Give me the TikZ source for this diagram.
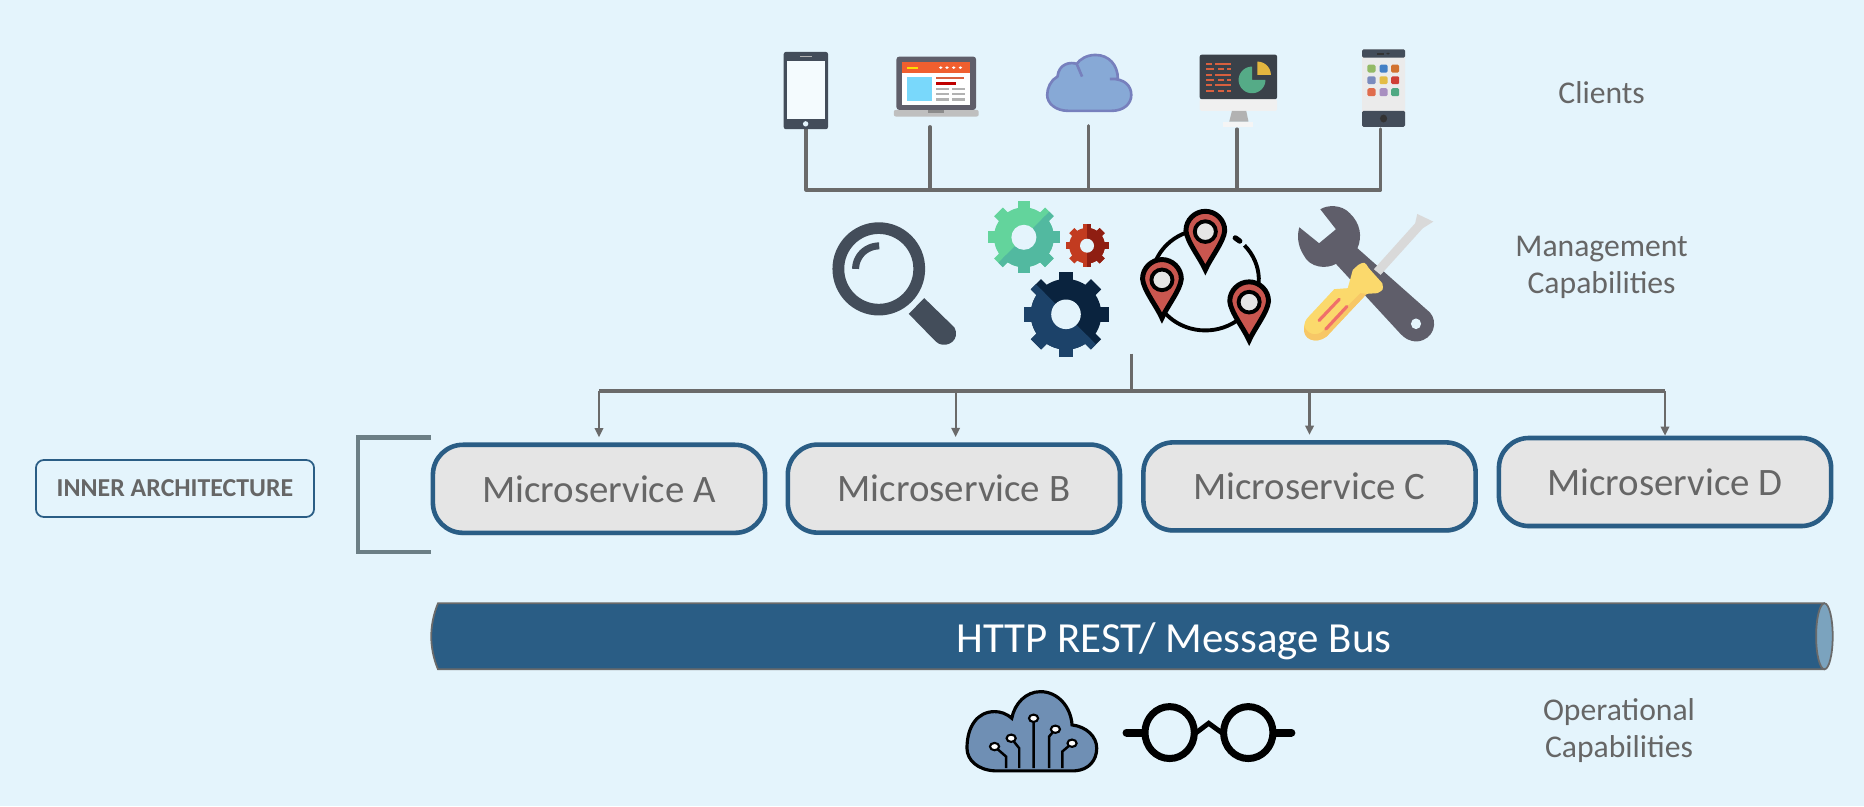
\documentclass[tikz,border=0pt]{standalone}
\usepackage{fontspec}
\setmainfont{Carlito}
\usetikzlibrary{arrows.meta,shadows}
\definecolor{back_col}{HTML}{E4F4FC}
\definecolor{line_col}{HTML}{6A6A6A}
\definecolor{text_col}{HTML}{666666}
\definecolor{blue_col}{HTML}{2A5D85}
\definecolor{slate_col}{HTML}{434D5A}
\definecolor{wrench_col}{HTML}{5F5E6A}
\definecolor{bars_col}{HTML}{D9603F}
\definecolor{pin_col}{HTML}{C9564F}
\definecolor{head_col}{HTML}{F05F2F}
\definecolor{sky_col}{HTML}{79D8FB}
\definecolor{cloud_col}{HTML}{87A9D6}
\definecolor{cloud_edge}{HTML}{7780BD}
\definecolor{screen_col}{HTML}{3A4149}
\definecolor{pie_col}{HTML}{55AB87}
\definecolor{slice_col}{HTML}{E3B63F}
\definecolor{grip_col}{HTML}{FBD96C}
\definecolor{grip_dark}{HTML}{F7C766}
\definecolor{stripe_col}{HTML}{F0706A}
\definecolor{mint_a}{HTML}{63D49C}
\definecolor{mint_b}{HTML}{52B9A0}
\definecolor{rust_a}{HTML}{C23B20}
\definecolor{rust_b}{HTML}{8F1E12}
\definecolor{navy_a}{HTML}{0A233E}
\definecolor{navy_b}{HTML}{1C4269}
\definecolor{tag_col}{HTML}{6B7E85}
\definecolor{cap_col}{HTML}{7BA3BE}
\definecolor{chip_col}{HTML}{6F8FB4}

% one gear: x, y, radius, hole, base colour, half colour, angle of the half
\newcommand{\gearbody}[2]{%
  \fill[#2] (0,0) circle ({0.83*#1});
  \foreach \a in {0,45,...,315} {\fill[#2,rotate=\a] ({-0.17*#1},{0.7*#1}) rectangle ({0.17*#1},#1);}}
\newcommand{\gearicon}[7]{%
  \begin{scope}[shift={(#1,#2)}]
    \gearbody{#3}{#5}
    \begin{scope}
      \clip[rotate=#7] ({-2*#3},0) rectangle ({2*#3},{2*#3});
      \gearbody{#3}{#6}
    \end{scope}
    \fill[back_col] (0,0) circle (#4);
  \end{scope}}
% one map pin, given by its tip
\newcommand{\pinicon}[2]{%
  \begin{scope}[shift={(#1,#2)}]
    \draw[black,fill=pin_col,line width=1.4pt] (0,0) .. controls (-12,-35) and (-44,-85) .. (-46,-118)
      .. controls (-46,-150) and (-25,-176) .. (0,-176) .. controls (25,-176) and (46,-150) .. (46,-118)
      .. controls (44,-85) and (12,-35) .. (0,0) -- cycle;
    \draw[black,fill=black!10,line width=1.1pt] (0,-115) ellipse [x radius=25,y radius=31];
  \end{scope}}

\begin{document}
\begin{tikzpicture}[x=0.01cm, y=-0.01cm,
                    service_style/.style={draw=blue_col, fill=black!10, line width=1.3pt, rounded corners=0.3cm,
                        minimum width=3.32cm, minimum height=0.88cm, inner sep=0pt, text=text_col,
                        font=\fontsize{11.05}{13}\selectfont,
                        drop shadow={shadow xshift=0pt, shadow yshift=-0.7pt, opacity=0.3}},
                    icon_style/.style={minimum size=0.4cm, inner sep=0pt, outer sep=0pt, anchor=south},
                    label_style/.style={text=text_col, font=\fontsize{9}{10.5}\selectfont, inner sep=0pt},
                    wire_style/.style={draw=line_col, line width=0.9pt, line cap=round, line join=round},
                    edge_style/.style={-{Stealth[length=2.6pt,width=2.4pt,inset=0pt]}, draw=line_col, line width=0.6pt},
                    zoom_a/.style={shift={(760,30)}, x=0.004464cm, y=-0.003333cm},
                    zoom_b/.style={shift={(800,190)}, x=0.004209cm, y=-0.003333cm},
                    zoom_d/.style={shift={(940,670)}, x=0.00574cm, y=-0.003333cm}
   ]
   \useasboundingbox (0,0) rectangle (1864,806);
   \fill[back_col] (0,0) rectangle (1864,806);

   % Clients
   \node[icon_style] (phone) at (806,129) {};
   \node[icon_style] (laptop) at (930,126.7) {};
   \node[icon_style] (cloud) at (1088.6,125.7) {};
   \node[icon_style] (monitor) at (1237,129) {};
   \node[icon_style] (tablet) at (1380.5,129) {};
   \coordinate (client_bus) at (0,190);
   \draw[wire_style] (phone.south) |- (client_bus -| tablet.south) -- (tablet.south);
   \foreach \n in {laptop,cloud,monitor} {\draw[wire_style] (\n.south) -- (\n.south |- client_bus);}

   \begin{scope}[zoom_a]
     % phone
     \fill[slate_col, rounded corners=0.6pt] (53,66) rectangle (152,298);
     \fill[back_col!40!white] (60,92) rectangle (146,268);
     \fill[back_col] (102,282) ellipse [x radius=6,y radius=8];
     \fill[black!30] (90,78) rectangle (116,81);
     % laptop
     \fill[black!25!white, rounded corners=0.6pt] (299,240) rectangle (489,260);
     \fill[black!45] (376,240) rectangle (412,248);
     \fill[wrench_col, rounded corners=0.8pt] (305,80) rectangle (483,240);
     \fill[white] (317,97) rectangle (470,224);
     \fill[head_col] (317,97) rectangle (470,129);
     \fill[yellow!80!orange] (328,110) rectangle (354,116);
     \foreach \x in {404,418,433,448} {\fill[white] (\x,113) ellipse [x radius=4,y radius=4];}
     \fill[sky_col] (328,140) rectangle (384,212);
     \fill[bars_col] (393,141) rectangle (456,148);
     \fill[red!75!black] (393,157) rectangle (438,164);
     \foreach \y in {173,189,205} {\fill[black!30] (393,\y) rectangle (422,\y+7); \fill[black!30] (430,\y) rectangle (458,\y+7);}
     % cloud
     \draw[fill=cloud_col, draw=cloud_edge, line width=0.75pt] (690,243) -- (785,243)
       .. controls (815,243) and (830,220) .. (830,195) .. controls (830,168) and (815,145) .. (782,147)
       -- (800,147) .. controls (800,105) and (780,75) .. (750,75) .. controls (730,75) and (715,88) .. (708,102)
       -- (720,140) -- (708,102) .. controls (695,95) and (668,100) .. (665,140)
       .. controls (650,150) and (642,175) .. (642,195) .. controls (642,220) and (660,243) .. (690,243) -- cycle;
     % monitor
     \fill[black!6, rounded corners=0.4pt] (983,208) rectangle (1156,243);
     \fill[black!30] (1055,243) -- (1087,243) -- (1092,275) -- (1049,275) -- cycle;
     \fill[black!4] (1035,275) rectangle (1103,292);
     \fill[screen_col, rounded corners=0.6pt] (983,74) rectangle (1156,208);
     \foreach \y in {102,134,166} {\fill[bars_col] (996,\y-3) rectangle (1010,\y+3); \fill[bars_col] (1017,\y-3) rectangle (1052,\y+3);}
     \foreach \y in {118,150,182} {\fill[bars_col] (996,\y-3) rectangle (1016,\y+3); \fill[bars_col] (1023,\y-3) rectangle (1037,\y+3); \fill[bars_col] (1044,\y-3) rectangle (1052,\y+3);}
     \fill[pie_col] (1100,150) -- plot[domain=0:270, samples=40] ({1100+30*cos(\x)},{150+40*sin(\x)}) -- cycle;
     \fill[slice_col] (1112,135) -- plot[domain=270:360, samples=15] ({1112+30*cos(\x)},{135+40*sin(\x)}) -- cycle;
     % tablet
     \fill[black!8, rounded corners=0.4pt] (1346,58) rectangle (1442,291);
     \fill[slate_col, rounded corners=0.4pt] (1346,58) rectangle (1442,83);
     \fill[slate_col, rounded corners=0.4pt] (1346,243) rectangle (1442,291);
     \fill[black!80] (1380,69) rectangle (1396,74);
     \fill[black!80] (1404,71) ellipse [x radius=4,y radius=3];
     \fill[black!80] (1394,266) ellipse [x radius=8,y radius=12];
     \foreach \x/\y/\r/\g/\b in {1367/116/147/186/102, 1394/116/68/128/197, 1420/116/210/114/47,
                                 1367/151/123/139/190, 1394/151/227/188/69, 1420/151/207/63/54,
                                 1367/187/224/108/77, 1394/187/168/143/192, 1420/187/79/169/131}
       {\fill[fill={rgb,255:red,\r;green,\g;blue,\b}, rounded corners=0.4pt] (\x-9,\y-12) rectangle (\x+9,\y+12);}
   \end{scope}

   % Management capabilities
   \begin{scope}[zoom_b]
     % magnifier
     \fill[slate_col, even odd rule] (187,237) ellipse [x radius=110,y radius=140] (187,237) ellipse [x radius=82,y radius=105];
     \draw[slate_col, line width=2pt] plot[domain=180:270, samples=20] ({188+56*cos(\x)},{237+69*sin(\x)});
     \fill[slate_col] (295,325) -- (258,372) -- (322,455) .. controls (340,478) and (375,460) .. (370,425)
       .. controls (369,415) and (365,410) .. (360,405) -- cycle;
     % pins on a ring
     \draw[black, line width=1.1pt] plot[domain=-43:260, samples=60] ({962+127*cos(\x)},{270+152*sin(\x)});
     \draw[black, line width=1.5pt, line cap=round] plot[domain=-56:-50, samples=5] ({962+127*cos(\x)},{270+152*sin(\x)});
     \pinicon{962}{240}
     \pinicon{859}{385}
     \pinicon{1066}{452}
     % spanner
     \fill[wrench_col] (1235,58) .. controls (1250,45) and (1285,42) .. (1305,70) .. controls (1330,100) and (1335,140) .. (1323,175)
       -- (1495,368) .. controls (1515,395) and (1505,450) .. (1465,455) .. controls (1445,455) and (1435,445) .. (1425,432)
       -- (1272,222) .. controls (1250,238) and (1210,235) .. (1195,195) .. controls (1180,165) and (1180,135) .. (1185,112)
       -- (1232,160) -- (1272,118) -- cycle;
     \fill[back_col] (1462,402) ellipse [x radius=12,y radius=16];
     % screwdriver
     \fill[black!15] (1362,238) -- (1460,100) -- (1465,72) -- (1503,95) -- (1478,115) -- (1378,255) -- cycle;
     \fill[grip_col] (1325,225) .. controls (1340,215) .. (1350,235) -- (1382,280) .. controls (1385,300) .. (1370,310)
       -- (1345,312) -- (1250,440) .. controls (1225,465) and (1190,450) .. (1197,405) .. controls (1200,390) .. (1215,370)
       -- (1268,298) -- (1300,295) -- (1312,240) -- cycle;
     \fill[grip_dark] (1197,410) .. controls (1190,450) and (1225,465) .. (1250,440) -- (1345,312) -- (1330,310) -- (1240,425) .. controls (1225,440) and (1205,435) .. cycle;
     \draw[stripe_col, line width=0.9pt, line cap=round] (1232,392) -- (1280,328) (1248,418) -- (1298,350);
   \end{scope}
   \gearicon{1023.9}{237.3}{36}{12.5}{mint_a}{mint_b}{45}
   \gearicon{1087}{245.7}{21.5}{7}{rust_a}{rust_b}{90}
   \gearicon{1066}{314.3}{42.5}{14.8}{navy_a}{navy_b}{-45}

   % Services
   \node[service_style] (msa) at (599,488.8) {Microservice A};
   \node[service_style] (msb) at (953.9,488.6) {Microservice B};
   \node[service_style] (msc) at (1309.5,486.4) {Microservice C};
   \node[service_style] (msd) at (1665,482) {Microservice D};

   \node[inner sep=0pt, minimum size=0pt] (hub) at (1131.5,353) {};
   \coordinate (tree_bus) at (0,391);
   \draw[draw=line_col, line width=0.7pt] (hub) -- (hub |- tree_bus);
   \draw[draw=line_col, line width=0.9pt] (msa.north |- tree_bus) -- (msd.north |- tree_bus);
   \foreach \n in {msa,msc} {\draw[edge_style, shorten >=1.5pt] (\n.north |- tree_bus) -- (\n.north);}
   \draw[edge_style, shorten >=1.5pt] ([xshift=0.017cm]msb.north |- tree_bus) -- ([xshift=0.017cm]msb.north);
   \draw[edge_style] (msd.north |- tree_bus) -- (msd.north);

   % Left tag and bracket
   \node[draw=blue_col, line width=0.5pt, rounded corners=0.08cm, minimum width=2.78cm, minimum height=0.57cm,
         text=text_col, font=\fontsize{7.35}{9}\selectfont\bfseries] (inner) at (175,488.5) {INNER ARCHITECTURE};
   \draw[draw=tag_col, line width=1.4pt] (431,437.3) -| (358,552) -- (431,552);

   % Message bus
   \draw[draw=line_col, fill=blue_col, line width=0.5pt] (438,603.3) -- (1824,603.3) -- (1824,669.3) -- (438,669.3)
     .. controls (429,648) and (429,625) .. (438,603.3) -- cycle;
   \draw[draw=line_col, fill=cap_col, line width=0.5pt] (1824.4,636.3) ellipse [x radius=8.3,y radius=33];
   \node[text=white, font=\fontsize{12.2}{14}\selectfont, inner sep=0pt] (bus_label) at (1174,641) {HTTP REST/ Message Bus};

   % Operational capabilities
   \begin{scope}[zoom_d]
     \draw[black, fill=chip_col, line width=0.9pt] (95,303) -- (235,303) .. controls (260,300) and (273,270) .. (273,235)
       .. controls (273,200) and (255,170) .. (230,165) .. controls (228,110) and (205,65) .. (175,65)
       .. controls (150,65) and (130,100) .. (125,145) .. controls (115,130) and (105,125) .. (95,125)
       .. controls (65,125) and (47,170) .. (47,235) .. controls (47,270) and (65,300) .. (95,303) -- cycle;
     \draw[black, line width=0.7pt] (163,145) -- (163,295) (201,178) -- (190,200) -- (190,295)
       (230,220) -- (213,245) -- (213,295) (124,205) -- (138,235) -- (138,295) (95,230) -- (115,260) -- (115,295);
     \foreach \x/\y in {163/145, 201/178, 230/220, 124/205, 95/230}
       {\draw[black, fill=white, line width=0.6pt] (\x,\y) ellipse [x radius=8,y radius=11];}
     \draw[black, line width=2pt] (400,188) ellipse [x radius=43,y radius=78];
     \draw[black, line width=2pt] (537,188) ellipse [x radius=43,y radius=78];
     \draw[black, line width=2.3pt, line cap=round] (325,188) -- (355,188);
     \draw[black, line width=2.3pt, line cap=round] (582,188) -- (612,188);
     \draw[black, line width=1.4pt] (445,190) -- (468,160) -- (492,190);
   \end{scope}

   % Right labels
   \node[label_style] (clients) at (1601.6,92.7) {Clients};
   \node[label_style, align=center] (mgmt) at (1601.6,267) {Management\\Capabilities};
   \node[label_style, align=center] (ops) at (1619,730.5) {Operational\\Capabilities};
\end{tikzpicture}
\end{document}
